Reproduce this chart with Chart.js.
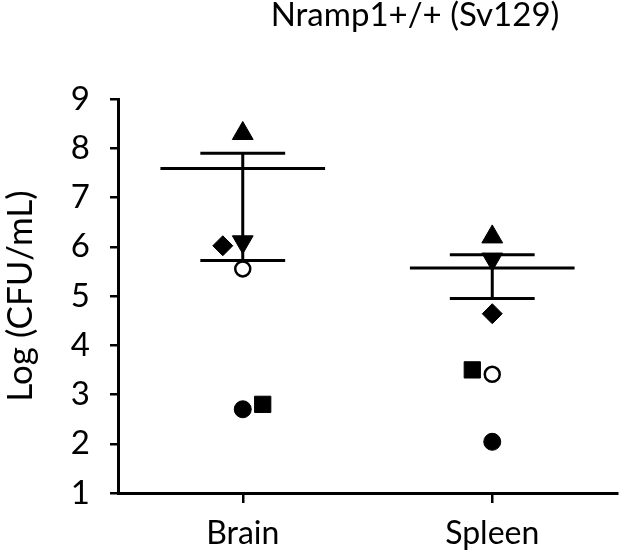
<!DOCTYPE html>
<html>
<head>
<meta charset="utf-8">
<script src="https://cdn.jsdelivr.net/npm/chart.js@4/dist/chart.umd.min.js"></script>
<style>
  html, body { margin: 0; padding: 0; background: #fff; }
  #wrap { width: 630px; height: 558px; position: relative; }
</style>
</head>
<body>
<div id="wrap"><canvas id="chart"></canvas></div>
<script>
// data
const groups = ["Brain", "Spleen"];
const groupPos = [1, 2];
const triUp = [8.3, 6.2];
const triDown = [6.1, 5.75];
const diamond = [6.02, 4.64];
const openCircle = [5.55, 3.41];
const filledCircle = [2.7, 2.04];
const square = [2.8, 3.5];
const means = [7.59, 5.57];
const semHigh = [7.9, 5.84];
const semLow = [5.72, 4.95];
const yTicks = [1, 2, 3, 4, 5, 6, 7, 8, 9];

// small horizontal nudges so markers don't sit on top of each other
const diamondShift = [-0.08, 0];
const squareShift = [0.08, -0.08];

const FONT = "Lato, sans-serif";
const meanHalf = 0.33, capHalf = 0.17;

function pts(vals, shift) {
  return vals.map((v, i) => ({ x: groupPos[i] + (shift ? shift[i] : 0), y: v }));
}

function marker(vals, style, r, opts) {
  return Object.assign({
    type: "scatter",
    data: pts(vals, opts && opts.shift),
    pointStyle: style,
    pointRadius: r,
    pointHoverRadius: r,
    backgroundColor: "#000",
    borderColor: "#000",
    borderWidth: 1
  }, opts || {});
}

const datasets = [];
groupPos.forEach((gx, i) => {
  const seg = (x0, y0, x1, y1) => datasets.push({
    type: "line",
    data: [{ x: x0, y: y0 }, { x: x1, y: y1 }],
    borderColor: "#000",
    borderWidth: 3,
    pointRadius: 0,
    fill: false
  });
  seg(gx - meanHalf, means[i], gx + meanHalf, means[i]);
  seg(gx - capHalf, semHigh[i], gx + capHalf, semHigh[i]);
  seg(gx - capHalf, semLow[i], gx + capHalf, semLow[i]);
  seg(gx, semLow[i], gx, semHigh[i]);
});

datasets.push(marker(triUp, "triangle", 12));
datasets.push(marker(triDown, "triangle", 12, { rotation: 180 }));
datasets.push(marker(diamond, "rectRot", 10, { shift: diamondShift }));
datasets.push(marker(square, "rect", 11.5, { shift: squareShift }));
datasets.push(marker(filledCircle, "circle", 8.5));
datasets.push(marker(openCircle, "circle", 7.5, { backgroundColor: "#fff", borderWidth: 2.5 }));

const titlePlugin = {
  id: "topTitle",
  afterDraw(chart) {
    const ctx = chart.ctx;
    ctx.save();
    ctx.fillStyle = "#000";
    ctx.font = "33px " + FONT;
    ctx.textAlign = "center";
    ctx.textBaseline = "middle";
    ctx.fillText("Nramp1+/+ (Sv129)", 415, 15);
    ctx.restore();
  }
};

new Chart(document.getElementById("chart"), {
  data: { datasets: datasets },
  options: {
    responsive: true,
    maintainAspectRatio: false,
    animation: false,
    layout: { padding: { top: 99, right: 0, bottom: 0, left: 0 } },
    plugins: { legend: { display: false }, tooltip: { enabled: false } },
    scales: {
      x: {
        type: "linear",
        min: 0.5,
        max: 2.5,
        afterBuildTicks: (s) => { s.ticks = groupPos.map(v => ({ value: v })); },
        afterFit: (s) => { s.height = 65; },
        grid: { drawOnChartArea: false, drawTicks: true, tickLength: 10, color: "#000", lineWidth: 2.5 },
        border: { color: "#000", width: 3 },
        ticks: {
          color: "#000",
          font: { family: FONT, size: 32 },
          padding: 11,
          maxRotation: 0,
          callback: (v) => groups[groupPos.indexOf(v)] || ""
        }
      },
      y: {
        min: 1,
        max: 9,
        afterBuildTicks: (s) => { s.ticks = yTicks.map(v => ({ value: v })); },
        afterFit: (s) => { s.width = 118; },
        grid: { drawOnChartArea: false, drawTicks: true, tickLength: 8, color: "#000", lineWidth: 2.5 },
        border: { color: "#000", width: 3 },
        ticks: { color: "#000", font: { family: FONT, size: 33 }, padding: 20 },
        title: {
          display: true,
          text: "Log (CFU/mL)",
          color: "#000",
          font: { family: FONT, size: 35 },
          padding: { top: 0, bottom: 0 }
        }
      }
    }
  },
  plugins: [titlePlugin]
});
</script>
</body>
</html>
